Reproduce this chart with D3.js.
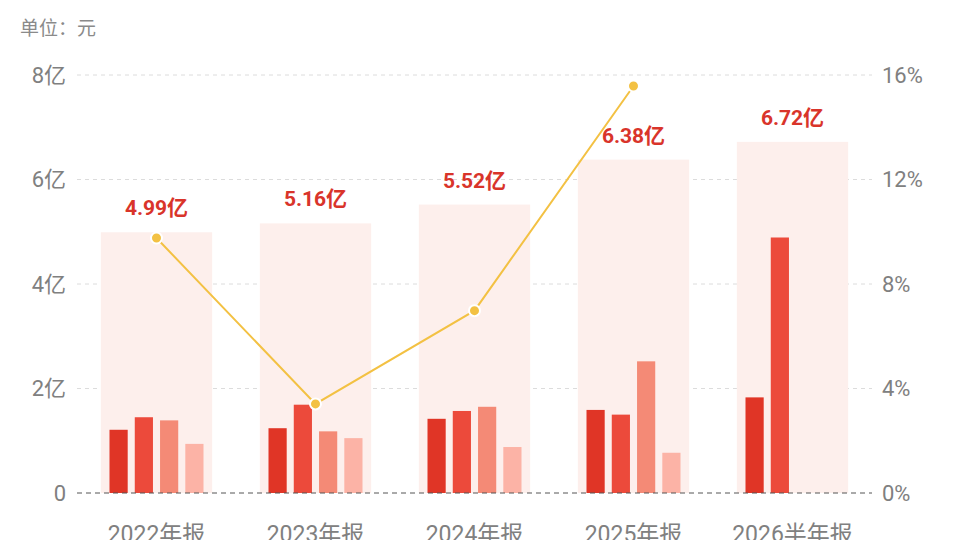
<!DOCTYPE html>
<html lang="zh">
<head>
<meta charset="UTF-8">
<title>营业收入</title>
<script src="https://cdn.jsdelivr.net/npm/d3@7"></script>
<style>
    html, body { margin: 0; padding: 0; background: #fff; }
    svg { display: block; }
    text { font-family: Roboto, "Noto Sans CJK SC", sans-serif; }
</style>
</head>
<body>
<script>
    // categories and values (unit: 亿元)
    const categories = ["2022年报", "2023年报", "2024年报", "2025年报", "2026半年报"];
    const totals = [4.99, 5.16, 5.52, 6.38, 6.72];
    const totalLabels = ["4.99亿", "5.16亿", "5.52亿", "6.38亿", "6.72亿"];
    const q1 = [1.21, 1.24, 1.42, 1.59, 1.83];
    const q2 = [1.45, 1.69, 1.57, 1.50, 4.89];
    const q3 = [1.39, 1.18, 1.65, 2.52, null];
    const q4 = [0.94, 1.05, 0.88, 0.77, null];
    const growth = [9.76, 3.41, 6.98, 15.58, null]; // %
    const leftTicks = [0, 2, 4, 6, 8];
    const leftTickLabels = ["0", "2亿", "4亿", "6亿", "8亿"];
    const rightTicks = [0, 4, 8, 12, 16];
    const rightTickLabels = ["0%", "4%", "8%", "12%", "16%"];

    const W = 960, H = 540;
    const plotL = 77, plotR = 872, plotT = 75, plotB = 493;
    const quarterColors = ["#e03526", "#ec4a3b", "#f48a76", "#fcb3a6"];

    const svg = d3.select("body").append("svg").attr("width", W).attr("height", H);

    const x = d3.scaleBand().domain(categories).range([plotL, plotR])
        .paddingInner(0.3).paddingOuter(0.15);
    const sub = d3.scaleBand().domain([0, 1, 2, 3]).range([-47, 47]).paddingInner(0.28);
    const y = d3.scaleLinear().domain([0, 8]).range([plotB, plotT]);
    const yr = d3.scaleLinear().domain([0, 16]).range([plotB, plotT]);

    svg.append("text").attr("x", 20).attr("y", 35)
        .attr("font-size", 19).attr("fill", "#8a8a8a").text("单位：元");

    // grid
    svg.append("g").selectAll("line")
        .data(leftTicks.filter(d => d > 0))
        .join("line")
        .attr("x1", plotL).attr("x2", plotR)
        .attr("y1", d => y(d)).attr("y2", d => y(d))
        .attr("stroke", "#dcdcdc").attr("stroke-dasharray", "4,4");

    // left axis
    const yAxis = d3.axisLeft(y).tickValues(leftTicks)
        .tickFormat((d, i) => leftTickLabels[i]).tickSize(0).tickPadding(11);
    const gl = svg.append("g").attr("transform", `translate(${plotL},0)`).call(yAxis);
    gl.select(".domain").remove();
    gl.selectAll("text").attr("font-size", 22).attr("fill", "#808080")
        .attr("font-family", "Roboto, 'Noto Sans CJK SC', sans-serif");

    // right axis
    const yrAxis = d3.axisRight(yr).tickValues(rightTicks)
        .tickFormat((d, i) => rightTickLabels[i]).tickSize(0).tickPadding(10);
    const gr = svg.append("g").attr("transform", `translate(${plotR},0)`).call(yrAxis);
    gr.select(".domain").remove();
    gr.selectAll("text").attr("font-size", 22).attr("fill", "#808080")
        .attr("font-family", "Roboto, 'Noto Sans CJK SC', sans-serif");

    // background total bars
    svg.append("g").selectAll("rect")
        .data(categories)
        .join("rect")
        .attr("x", d => x(d))
        .attr("width", x.bandwidth())
        .attr("y", (d, i) => y(totals[i]))
        .attr("height", (d, i) => plotB - y(totals[i]))
        .attr("fill", "#fdefec");

    // quarter bars
    const quarters = [q1, q2, q3, q4];
    quarters.forEach((arr, qi) => {
        svg.append("g").selectAll("rect")
            .data(categories.map((c, i) => ({c, v: arr[i]})).filter(d => d.v != null))
            .join("rect")
            .attr("x", d => x(d.c) + x.bandwidth() / 2 + sub(qi))
            .attr("width", sub.bandwidth())
            .attr("y", d => y(d.v))
            .attr("height", d => plotB - y(d.v))
            .attr("fill", quarterColors[qi]);
    });

    // baseline
    svg.append("line")
        .attr("x1", plotL).attr("x2", plotR)
        .attr("y1", y(0)).attr("y2", y(0))
        .attr("stroke", "#555").attr("stroke-dasharray", "5,4");

    // total labels
    svg.append("g").selectAll("text")
        .data(categories)
        .join("text")
        .attr("x", d => x(d) + x.bandwidth() / 2)
        .attr("y", (d, i) => y(totals[i]) - 17)
        .attr("text-anchor", "middle")
        .attr("font-size", 21).attr("font-weight", "bold")
        .attr("fill", "#d9342a")
        .text((d, i) => totalLabels[i]);

    // growth line
    const pts = categories.map((c, i) => ({c, v: growth[i]})).filter(d => d.v != null);
    const line = d3.line()
        .x(d => x(d.c) + x.bandwidth() / 2)
        .y(d => yr(d.v));
    svg.append("path").datum(pts)
        .attr("d", line)
        .attr("fill", "none").attr("stroke", "#f3c143").attr("stroke-width", 2);
    svg.append("g").selectAll("circle")
        .data(pts)
        .join("circle")
        .attr("cx", d => x(d.c) + x.bandwidth() / 2)
        .attr("cy", d => yr(d.v))
        .attr("r", 5.5)
        .attr("fill", "#f3c143").attr("stroke", "#fff").attr("stroke-width", 2);

    // category labels
    svg.append("g").selectAll("text")
        .data(categories)
        .join("text")
        .attr("x", d => x(d) + x.bandwidth() / 2)
        .attr("y", 542)
        .attr("text-anchor", "middle")
        .attr("font-size", 23).attr("fill", "#808080")
        .text(d => d);
</script>
</body>
</html>
